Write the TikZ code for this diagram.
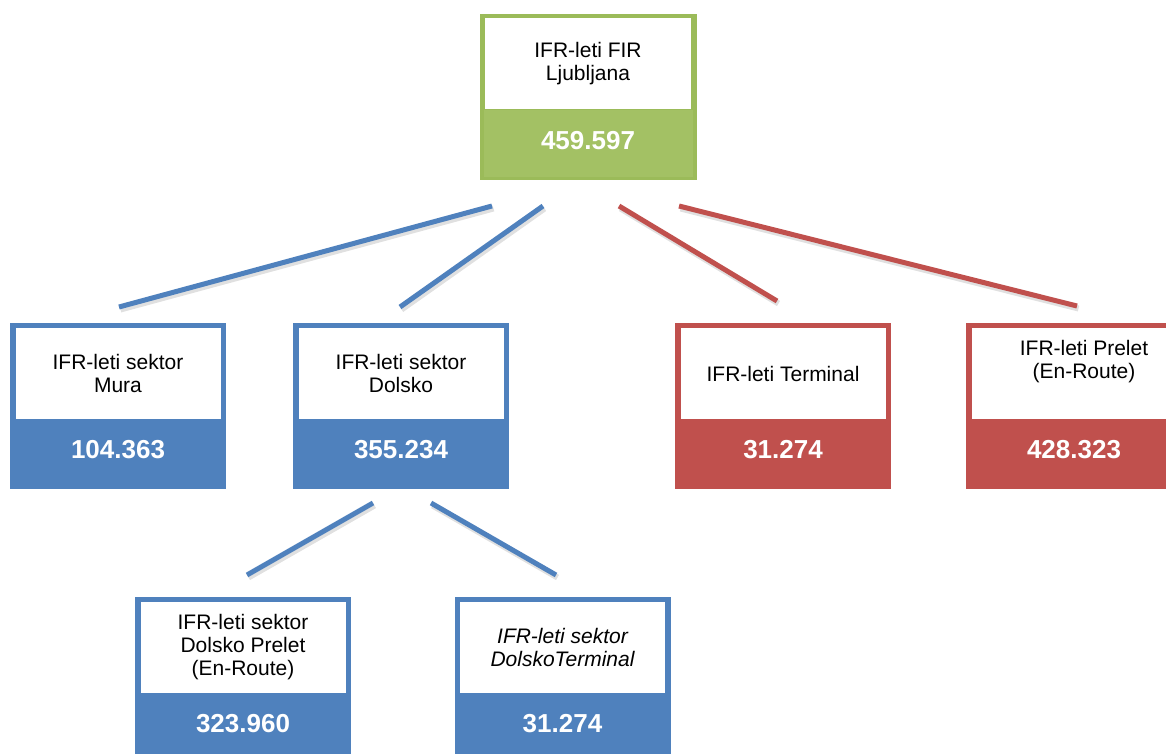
\documentclass[tikz,border=0pt]{standalone}
\usepackage{fontspec}
\setmainfont{Liberation Sans}
\definecolor{cblue}{HTML}{4F81BD}
\definecolor{cred}{HTML}{C0504D}
\definecolor{cgreen}{HTML}{9BBB59}
\definecolor{cgreenfill}{HTML}{A3C164}
\tikzset{
  outerbox/.style={rectangle, draw=none, fill=#1, minimum width=216pt, minimum height=166pt, inner sep=0pt},
  labelbox/.style={rectangle, draw=none, fill=white, minimum width=205pt, minimum height=91pt, inner sep=0pt, align=center, font=\fontsize{21}{23}\selectfont},
  numtext/.style={text=white, inner sep=0pt, font=\fontsize{26}{28}\selectfont\bfseries},
  conn/.style={draw=#1, line width=5pt, preaction={draw=black, opacity=0.12, line width=6pt, transform canvas={shift={(1.5pt,-2.5pt)}}}},
}
\newcommand\statbox[6]{%
  \node[outerbox=#4] (#1) at (#2,#3+83) {};
  \node[labelbox] (#1-l) at (#2,#3+50.5) {#5};
  \node[numtext] (#1-n) at (#2,#3+127) {#6};
}
\begin{document}
\begin{tikzpicture}[x=1pt,y=-1pt]
\clip (0,0) rectangle (1166,754);
\fill[white] (0,0) rectangle (1166,754);
% top box
\node[outerbox=cgreen, minimum width=217pt] (fir) at (588.5,97) {};
\fill[cgreenfill] (484,110) rectangle (693,177);
\node[labelbox, minimum width=206pt] (fir-l) at (588,64) {IFR-leti FIR\\Ljubljana};
\node[numtext] (fir-n) at (588,141) {459.597};
% middle row
\statbox{mura}{118}{323}{cblue}{IFR-leti sektor\\Mura}{104.363}
\statbox{dolsko}{401}{323}{cblue}{IFR-leti sektor\\Dolsko}{355.234}
\statbox{term}{783}{323}{cred}{IFR-leti Terminal}{31.274}
\statbox{prelet}{1074}{323}{cred}{}{428.323}
\node[align=center, inner sep=0pt, font=\fontsize{21}{23}\selectfont] (prelet-t) at (1084,362) {IFR-leti Prelet\\(En-Route)};
% bottom row
\statbox{dpre}{243}{597}{cblue}{IFR-leti sektor\\Dolsko Prelet\\(En-Route)}{323.960}
\statbox{dterm}{562.5}{597}{cblue}{\itshape IFR-leti sektor\\\itshape DolskoTerminal}{31.274}
% connector end points
\coordinate (a1) at (492,206); \coordinate (a2) at (119,307);
\coordinate (b1) at (543,206); \coordinate (b2) at (400,307);
\coordinate (c1) at (619,206); \coordinate (c2) at (777,301);
\coordinate (d1) at (679,206); \coordinate (d2) at (1077,306);
\coordinate (e1) at (373,503); \coordinate (e2) at (247,575);
\coordinate (f1) at (431,503); \coordinate (f2) at (556,575);
\draw[conn=cblue] (a1) -- (a2);
\draw[conn=cblue] (b1) -- (b2);
\draw[conn=cred] (c1) -- (c2);
\draw[conn=cred] (d1) -- (d2);
\draw[conn=cblue] (e1) -- (e2);
\draw[conn=cblue] (f1) -- (f2);
\end{tikzpicture}
\end{document}
